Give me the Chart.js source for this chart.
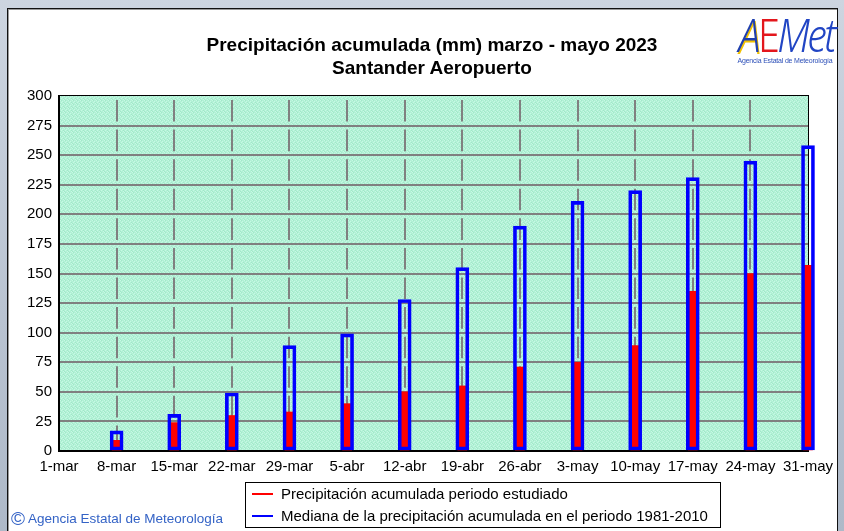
<!DOCTYPE html>
<html lang="es">
<head>
<meta charset="utf-8">
<title>Precipitación acumulada (mm) marzo - mayo 2023 - Santander Aeropuerto</title>
<script src="https://cdn.jsdelivr.net/npm/chart.js@4.4.0/dist/chart.umd.min.js"></script>
<style>
  html, body { margin: 0; padding: 0; }
  body {
    width: 844px; height: 531px; overflow: hidden; position: relative;
    background: linear-gradient(180deg, #cdd5e0 0%, #b9c3d1 60%, #aeb9c8 100%);
    font-family: "Liberation Sans", Arial, sans-serif;
  }
  #panel {
    position: absolute; left: 7px; top: 8px; width: 829px; height: 530px;
    background: #fff; border: 1px solid #111; box-shadow: inset 1px 1px 0 #9a9a9a;
  }
  #chart { position: absolute; left: 0; top: 0; }
  #title {
    position: absolute; left: 132px; top: 33px; width: 600px;
    text-align: center; font-weight: bold; font-size: 19px; line-height: 23px; color: #000;
  }
  #logo { position: absolute; left: 731px; top: 10px; width: 108px; text-align: center; }
  #logo .big {
    font-family: "Noto Sans", sans-serif; font-style: italic; font-weight: 300;
    font-size: 46px; line-height: 48px; letter-spacing: -3px;
    transform: scaleX(0.86); transform-origin: center;
  }
  #logo .a { color: #1f3fae; text-shadow: 1px 2px 0 #f2c200; }
  #logo .e { color: #e3161c; font-style: normal; }
  #logo .m { color: #2145c4; }
  #logo .sub { font-size: 7px; color: #2c4fb8; margin-top: -1px; white-space: nowrap; letter-spacing: -0.2px; }
  #legend {
    position: absolute; left: 245px; top: 482px; width: 474px; height: 44px;
    border: 1px solid #000; background: #fff;
  }
  #legend .item { position: absolute; left: 6px; height: 20px; line-height: 20px; font-size: 15px; color: #000; white-space: nowrap; }
  #legend .swatch { display: inline-block; width: 21px; height: 2px; vertical-align: middle; margin-right: 8px; position: relative; top: -1px; }
  #credit {
    position: absolute; left: 11px; top: 508px; font-size: 13.5px; line-height: 22px;
    color: #3463c6; white-space: nowrap;
  }
  #credit .c { font-size: 19px; vertical-align: -2px; margin-right: 3px; }
</style>
</head>
<body>
<div id="panel"></div>
<canvas id="chart" width="844" height="531"></canvas>
<div id="title">Precipitación acumulada (mm) marzo - mayo 2023<br>Santander Aeropuerto</div>
<div id="logo">
  <div class="big"><span class="a">A</span><span class="e">E</span><span class="m">Met</span></div>
  <div class="sub">Agencia Estatal de Meteorología</div>
</div>
<div id="legend"></div>
<div id="credit"><span class="c">©</span>Agencia Estatal de Meteorología</div>
<script>
const categories = ['1-mar', '8-mar', '15-mar', '22-mar', '29-mar', '5-abr', '12-abr',
  '19-abr', '26-abr', '3-may', '10-may', '17-may', '24-may', '31-may'];
const observed = [null, 9, 24, 30, 33, 40, 50, 55, 71, 75, 89, 135, 150, 157];
const median = [null, 17, 31, 49, 89, 99, 128, 155, 190, 211, 220, 231, 245, 258];
const yTicks = [0, 25, 50, 75, 100, 125, 150, 175, 200, 225, 250, 275, 300];
const seriesLabels = [
  'Precipitación acumulada periodo estudiado',
  'Mediana de la precipitación acumulada en el periodo 1981-2010'
];
const seriesColors = ['#ff0000', '#0000ff'];

const fontFamily = '"Liberation Sans", Arial, sans-serif';
const gridColor = '#808080';

// dithered mint fill like the original gif
const makePattern = (ctx) => {
  const c = document.createElement('canvas');
  c.width = 4;
  c.height = 4;
  const g = c.getContext('2d');
  g.fillStyle = '#b1f1d5';
  g.fillRect(0, 0, 4, 4);
  g.fillStyle = '#c6f8e4';
  [[0, 0], [2, 1], [1, 2], [3, 3]].forEach(([x, y]) => g.fillRect(x, y, 1, 1));
  g.fillStyle = '#a2e8c9';
  [[1, 0], [3, 2], [0, 3]].forEach(([x, y]) => g.fillRect(x, y, 1, 1));
  return ctx.createPattern(c, 'repeat');
};

const plotFrame = {
  id: 'plotFrame',
  beforeDraw(chart) {
    const { ctx, chartArea: a } = chart;
    ctx.save();
    ctx.fillStyle = makePattern(ctx);
    ctx.fillRect(a.left, a.top, a.width, a.height);
    ctx.restore();
  },
  beforeDatasetsDraw(chart) {
    const { ctx, chartArea: a } = chart;
    ctx.save();
    ctx.fillStyle = '#000';
    ctx.fillRect(a.left - 1, a.top - 1, a.width + 2, 1);
    ctx.fillRect(a.right, a.top - 1, 1, a.height + 1);
    ctx.fillRect(a.left - 1, a.top - 1, 2, a.height + 2);
    ctx.fillRect(a.left - 1, a.bottom - 1, a.width + 2, 2);
    ctx.restore();
  }
};

const chart = new Chart(document.getElementById('chart'), {
  type: 'bar',
  data: {
    labels: categories,
    datasets: [
      {
        label: seriesLabels[0],
        data: observed,
        backgroundColor: seriesColors[0],
        borderWidth: 0,
        barThickness: 9,
        grouped: false,
        clip: false,
        order: 2
      },
      {
        label: seriesLabels[1],
        data: median,
        backgroundColor: 'rgba(0,0,0,0)',
        borderColor: seriesColors[1],
        borderWidth: 3,
        borderSkipped: false,
        barThickness: 13,
        grouped: false,
        clip: false,
        order: 1
      }
    ]
  },
  options: {
    responsive: false,
    devicePixelRatio: 1,
    animation: false,
    layout: { padding: { left: 19, right: 36, top: 96, bottom: 50 } },
    plugins: {
      legend: { display: false },
      title: { display: false },
      tooltip: { enabled: false }
    },
    scales: {
      x: {
        type: 'category',
        offset: false,
        grid: {
          offset: false,
          drawTicks: false,
          lineWidth: 2,
          color: (c) => (c.index === 0 || c.index === categories.length - 1) ? 'rgba(0,0,0,0)' : gridColor
        },
        border: { display: false, dash: [21.58, 8], dashOffset: 25.58 },
        ticks: {
          color: '#000',
          font: { size: 15, family: fontFamily },
          padding: 7,
          maxRotation: 0,
          autoSkip: false
        },
        afterFit: (s) => { s.height = 30; }
      },
      y: {
        min: 0,
        max: 300,
        grid: {
          drawTicks: false,
          lineWidth: 2,
          color: (c) => (c.tick && (c.tick.value === 0 || c.tick.value === 300)) ? 'rgba(0,0,0,0)' : gridColor
        },
        border: { display: false },
        ticks: {
          color: '#000',
          font: { size: 15, family: fontFamily },
          padding: 7
        },
        afterBuildTicks: (s) => { s.ticks = yTicks.map((v) => ({ value: v })); },
        afterFit: (s) => { s.width = 40; }
      }
    }
  },
  plugins: [plotFrame]
});

// legend box built from the datasets
const legend = document.getElementById('legend');
chart.data.datasets.forEach((ds, i) => {
  const item = document.createElement('div');
  item.className = 'item';
  item.style.top = (1 + i * 22) + 'px';
  const sw = document.createElement('span');
  sw.className = 'swatch';
  sw.style.background = seriesColors[i];
  item.appendChild(sw);
  item.appendChild(document.createTextNode(ds.label));
  legend.appendChild(item);
});
</script>
</body>
</html>
